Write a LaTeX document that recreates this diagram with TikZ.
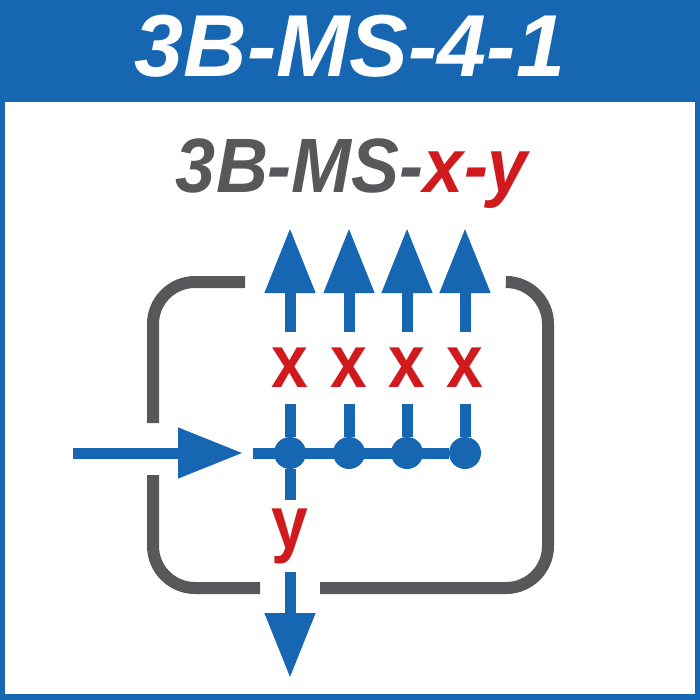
\documentclass[tikz,border=0pt]{standalone}
\usepackage{graphicx}
\usepackage{fontspec}
\setmainfont{Liberation Sans}
\usetikzlibrary{arrows.meta}
\definecolor{msblue}{RGB}{22,102,178}
\definecolor{msred}{RGB}{208,26,30}
\definecolor{msgray}{RGB}{88,88,90}

\begin{document}
\begin{tikzpicture}[x=1pt,y=-1pt,
  flow/.style={msblue,line width=11pt},
  flowarrow/.style={flow,-{Triangle[length=65pt,width=48pt]}},
  frame/.style={msgray,line width=12pt,rounded corners=42pt},
  dot/.style={circle,fill=msblue,inner sep=0pt,minimum size=32pt},
  var/.style={text=msred,font=\fontsize{75}{75}\selectfont\bfseries,inner sep=0pt,minimum height=72pt}]
  \useasboundingbox (0,0) rectangle (700,700);
  \fill[msblue] (0,0) rectangle (700,700);
  \fill[white] (5,102) rectangle (695,694);
  \node[white,font=\fontsize{88}{88}\selectfont\bfseries\itshape,anchor=base] (title) at (350,77) {3B-MS-4-1};
  \node[msgray,font=\fontsize{72}{72}\selectfont\bfseries\itshape,anchor=base] (sub) at (352,193) {\scalebox{1}[1.07]{3B-MS-\textcolor{msred}{x-y}}};
  % gray loop, open where the streams pass
  \draw[frame] (245,282) -| (153,423);
  \draw[frame] (153,475) |- (260,588);
  \draw[frame] (320,588) -| (548,282) -- (512,282);
  % splitter
  \foreach \i/\px in {1/290,2/349,3/407,4/465}{
    \node[dot] (d\i) at (\px,453) {};
    \node[var] (x\i) at (\px,368) {\scalebox{0.88}[1]{x}};
    \coordinate (t\i) at (\px,228);
  }
  \coordinate (src) at (73,453);
  \coordinate (inlet) at (243,453);
  \coordinate (hs) at (253,453);
  \draw[flowarrow] (src) -- (inlet);
  \draw[flow] (hs) -- (d4);
  \foreach \i in {1,...,4}{
    \draw[flow] (d\i) -- (x\i);
    \draw[flowarrow] (x\i) -- (t\i);
  }
  \node[var] (yv) at (290,536) {\scalebox{0.88}[1]{y}};
  \coordinate (out) at (290,678);
  \draw[flow] (d1) -- (yv);
  \draw[flowarrow] (yv) -- (out);
\end{tikzpicture}
\end{document}
